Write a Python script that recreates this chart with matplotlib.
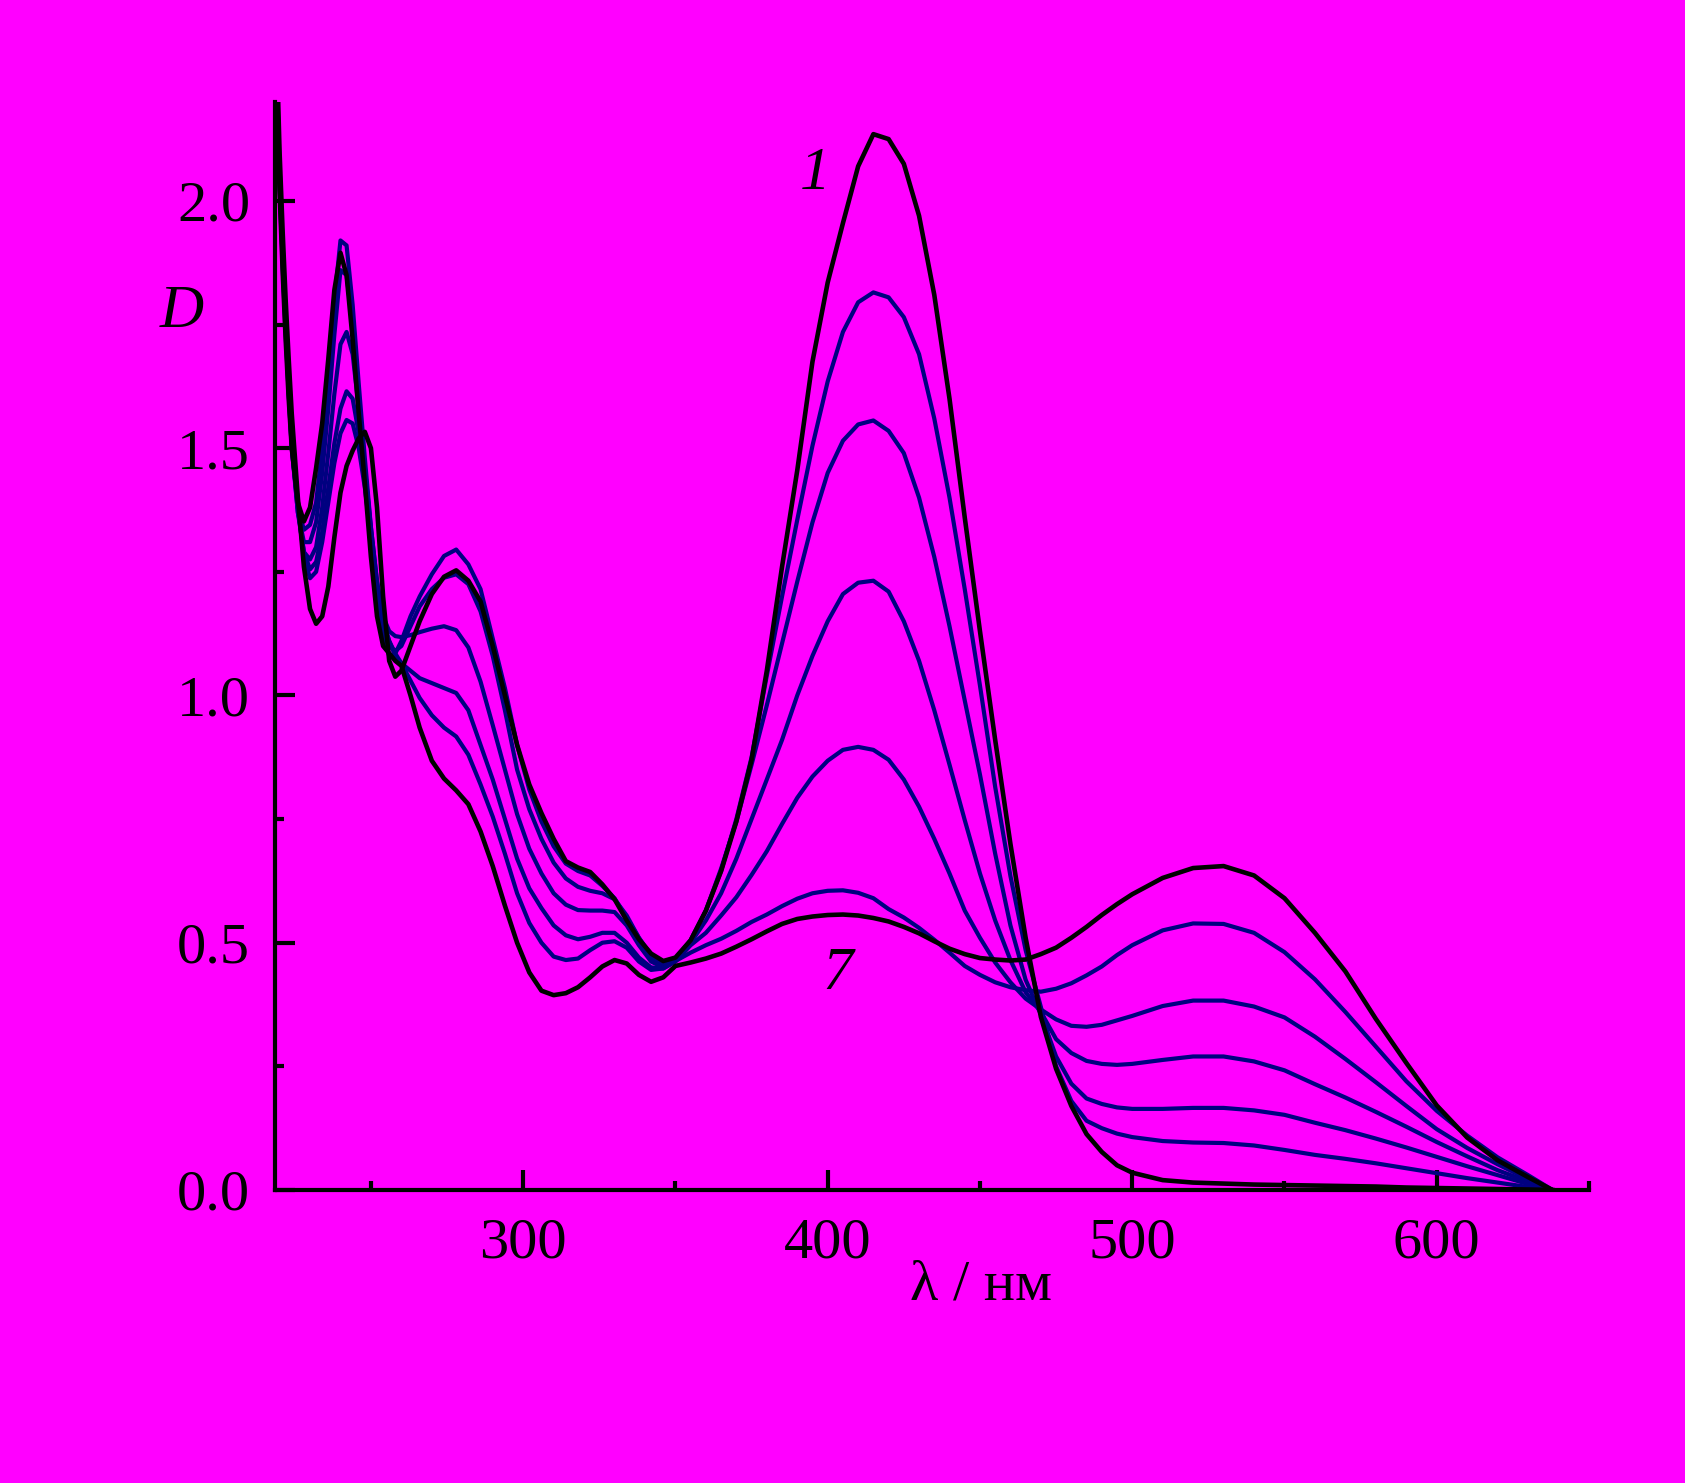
import matplotlib
matplotlib.use('Agg')
import matplotlib.pyplot as plt
from matplotlib.ticker import MultipleLocator, FormatStrFormatter

# wavelength grid, nm
wavelength = [218, 219, 220, 221, 222, 223, 224,
              226, 228, 230, 232, 234, 236, 238, 240, 242, 244, 246, 248, 250, 252, 254, 256, 258, 260, 263, 266,
              270, 274, 278, 282, 286, 290, 294, 298, 302, 306, 310, 314, 318, 322, 326, 330, 334, 338, 342, 346, 350,
              355, 360, 365, 370, 375, 380, 385, 390, 395, 400, 405, 410, 415, 420, 425, 430, 435, 440, 445, 450,
              455, 460, 465, 470, 475, 480, 485, 490, 495, 500,
              510, 520, 530, 540, 550, 560, 570, 580, 590, 600, 610, 620, 630, 638]

# optical density, spectra 1..7
d1 = [2.60, 2.32, 2.10, 1.94, 1.80, 1.68, 1.57,
      1.40, 1.26, 1.175, 1.145, 1.16, 1.22, 1.32, 1.41, 1.464, 1.495, 1.52, 1.533, 1.50, 1.38, 1.20, 1.07, 1.038, 1.05, 1.10, 1.15,
      1.205, 1.24, 1.253, 1.232, 1.19, 1.10, 1.00, 0.90, 0.82, 0.762, 0.71, 0.665, 0.652, 0.643, 0.618, 0.588, 0.545, 0.507, 0.478, 0.463, 0.47,
      0.505, 0.565, 0.645, 0.745, 0.87, 1.05, 1.26, 1.455, 1.675, 1.835, 1.955, 2.07, 2.135, 2.125, 2.075, 1.97, 1.81, 1.60, 1.36, 1.13,
      0.91, 0.70, 0.51, 0.35, 0.245, 0.17, 0.113, 0.077, 0.05, 0.035,
      0.02, 0.015, 0.013, 0.011, 0.01, 0.009, 0.008, 0.007, 0.005, 0.004, 0.003, 0.002, 0.001, 0.0]

d2 = [2.55, 2.28, 2.07, 1.91, 1.77, 1.64, 1.53,
      1.38, 1.28, 1.237, 1.25, 1.31, 1.39, 1.47, 1.53, 1.557, 1.55, 1.50, 1.42, 1.32, 1.21, 1.12, 1.08, 1.085, 1.11, 1.16, 1.20,
      1.245, 1.282, 1.295, 1.265, 1.215, 1.115, 1.015, 0.90, 0.81, 0.745, 0.695, 0.66, 0.645, 0.636, 0.615, 0.59, 0.55, 0.51, 0.476, 0.46, 0.468,
      0.505, 0.565, 0.645, 0.75, 0.875, 1.04, 1.20, 1.355, 1.505, 1.635, 1.735, 1.795, 1.815, 1.805, 1.765, 1.69, 1.56, 1.40, 1.215, 1.02,
      0.815, 0.635, 0.485, 0.37, 0.25, 0.18, 0.14, 0.125, 0.114, 0.107,
      0.099, 0.096, 0.095, 0.09, 0.081, 0.071, 0.063, 0.054, 0.044, 0.034, 0.024, 0.015, 0.006, 0.0]

d3 = [2.55, 2.27, 2.06, 1.90, 1.76, 1.63, 1.52,
      1.38, 1.29, 1.255, 1.27, 1.33, 1.42, 1.51, 1.58, 1.615, 1.60, 1.53, 1.44, 1.33, 1.22, 1.14, 1.10, 1.09, 1.10, 1.14, 1.18,
      1.215, 1.238, 1.245, 1.225, 1.17, 1.08, 0.97, 0.85, 0.77, 0.71, 0.662, 0.63, 0.613, 0.605, 0.60, 0.588, 0.555, 0.51, 0.47, 0.453, 0.465,
      0.505, 0.565, 0.65, 0.745, 0.86, 0.98, 1.105, 1.23, 1.35, 1.45, 1.515, 1.548, 1.556, 1.535, 1.49, 1.40, 1.28, 1.14, 0.99, 0.84,
      0.68, 0.535, 0.425, 0.355, 0.27, 0.215, 0.185, 0.174, 0.167, 0.164,
      0.164, 0.166, 0.166, 0.161, 0.152, 0.136, 0.121, 0.104, 0.086, 0.067, 0.048, 0.03, 0.012, 0.0]

d4 = [2.50, 2.25, 2.05, 1.89, 1.75, 1.62, 1.51,
      1.37, 1.29, 1.275, 1.30, 1.38, 1.49, 1.61, 1.71, 1.735, 1.69, 1.58, 1.46, 1.34, 1.23, 1.16, 1.13, 1.12, 1.118, 1.122, 1.128,
      1.135, 1.14, 1.132, 1.097, 1.028, 0.94, 0.85, 0.76, 0.69, 0.64, 0.60, 0.577, 0.566, 0.565, 0.565, 0.562, 0.535, 0.495, 0.462, 0.45, 0.463,
      0.50, 0.545, 0.60, 0.67, 0.75, 0.83, 0.91, 1.00, 1.08, 1.15, 1.205, 1.228, 1.232, 1.21, 1.15, 1.07, 0.97, 0.86, 0.748, 0.64,
      0.545, 0.465, 0.40, 0.36, 0.305, 0.277, 0.261, 0.255, 0.253, 0.255,
      0.263, 0.27, 0.27, 0.26, 0.242, 0.214, 0.187, 0.158, 0.128, 0.097, 0.068, 0.04, 0.017, 0.0]

d5 = [2.50, 2.24, 2.04, 1.88, 1.74, 1.61, 1.50,
      1.37, 1.31, 1.31, 1.35, 1.45, 1.58, 1.73, 1.86, 1.85, 1.75, 1.60, 1.46, 1.33, 1.22, 1.15, 1.11, 1.08, 1.065, 1.05, 1.035,
      1.025, 1.015, 1.005, 0.97, 0.90, 0.83, 0.75, 0.67, 0.61, 0.57, 0.535, 0.515, 0.507, 0.512, 0.52, 0.52, 0.50, 0.47, 0.45, 0.448, 0.462,
      0.495, 0.52, 0.555, 0.592, 0.637, 0.685, 0.74, 0.793, 0.836, 0.868, 0.89, 0.896, 0.89, 0.87, 0.83, 0.775, 0.71, 0.64, 0.565, 0.51,
      0.46, 0.42, 0.387, 0.365, 0.345, 0.332, 0.33, 0.334, 0.343, 0.352,
      0.372, 0.383, 0.383, 0.371, 0.349, 0.31, 0.265, 0.218, 0.17, 0.123, 0.085, 0.052, 0.022, 0.0]

d6 = [2.45, 2.22, 2.03, 1.87, 1.73, 1.61, 1.50,
      1.38, 1.335, 1.345, 1.39, 1.50, 1.64, 1.80, 1.92, 1.91, 1.79, 1.63, 1.48, 1.34, 1.23, 1.15, 1.11, 1.085, 1.065, 1.03, 0.995,
      0.96, 0.935, 0.917, 0.88, 0.82, 0.755, 0.68, 0.60, 0.54, 0.50, 0.472, 0.465, 0.468, 0.485, 0.50, 0.503, 0.49, 0.462, 0.445, 0.448, 0.463,
      0.48, 0.495, 0.508, 0.524, 0.542, 0.557, 0.574, 0.589, 0.60, 0.605, 0.606, 0.601, 0.59, 0.568, 0.551, 0.53, 0.506, 0.48, 0.453, 0.435,
      0.42, 0.41, 0.404, 0.401, 0.407, 0.418, 0.434, 0.452, 0.475, 0.495,
      0.525, 0.539, 0.538, 0.52, 0.481, 0.426, 0.36, 0.29, 0.22, 0.16, 0.11, 0.066, 0.03, 0.0]

d7 = [2.50, 2.22, 2.02, 1.86, 1.72, 1.60, 1.50,
      1.39, 1.352, 1.38, 1.46, 1.55, 1.68, 1.82, 1.895, 1.85, 1.72, 1.57, 1.43, 1.28, 1.16, 1.10, 1.085, 1.07, 1.06, 1.00, 0.935,
      0.868, 0.832, 0.808, 0.78, 0.725, 0.655, 0.575, 0.50, 0.44, 0.403, 0.394, 0.398, 0.41, 0.43, 0.452, 0.465, 0.458, 0.435, 0.421, 0.43, 0.453,
      0.46, 0.468, 0.478, 0.492, 0.507, 0.523, 0.538, 0.548, 0.553, 0.556, 0.557, 0.555, 0.55, 0.543, 0.532, 0.519, 0.503, 0.488, 0.477, 0.469,
      0.466, 0.464, 0.466, 0.477, 0.49, 0.51, 0.532, 0.556, 0.578, 0.598,
      0.631, 0.651, 0.655, 0.636, 0.59, 0.52, 0.442, 0.346, 0.257, 0.171, 0.106, 0.06, 0.026, 0.0]

BG = '#ff00ff'
NAVY = '#000080'


def main():
    plt.rcParams['font.family'] = ['Liberation Serif', 'DejaVu Serif']
    W, H = 1685, 1483
    fig = plt.figure(figsize=(W / 100, H / 100), dpi=100, facecolor=BG)
    ax = fig.add_axes([275 / W, 1 - 1190 / H, 1314 / W, 1088 / H])
    ax.set_facecolor(BG)

    # intermediate spectra in navy, first and last in black
    for d in (d2, d3, d4, d5, d6):
        ax.plot(wavelength, d, color=NAVY, lw=3.0, solid_joinstyle='round')
    for d in (d1, d7):
        ax.plot(wavelength, d, color='black', lw=3.3, solid_joinstyle='round')

    ax.set_xlim(218.5, 650)
    ax.set_ylim(0, 2.2)

    for s in ('top', 'right'):
        ax.spines[s].set_visible(False)
    for s in ('left', 'bottom'):
        ax.spines[s].set_linewidth(3)

    ax.xaxis.set_major_locator(MultipleLocator(100))
    ax.xaxis.set_minor_locator(MultipleLocator(50))
    ax.yaxis.set_major_locator(MultipleLocator(0.5))
    ax.yaxis.set_minor_locator(MultipleLocator(0.25))
    ax.yaxis.set_major_formatter(FormatStrFormatter('%.1f'))
    ax.xaxis.set_major_formatter(FormatStrFormatter('%d'))

    ax.tick_params(which='major', direction='in', length=14.5, width=3, labelsize=42)
    ax.tick_params(which='minor', direction='in', length=6.5, width=3)
    ax.tick_params(axis='x', which='major', pad=20)
    ax.tick_params(axis='y', which='major', pad=18)

    fig.text(182 / W, 1 - 312 / H, 'D', style='italic', fontsize=44, ha='center', va='center')
    fig.text(981 / W, 1 - 1300 / H, 'λ / нм', fontsize=42, ha='center', va='baseline')
    fig.text(815 / W, 1 - 189 / H, '1', style='italic', fontsize=44, ha='center', va='baseline')
    fig.text(838 / W, 1 - 989 / H, '7', style='italic', fontsize=44, ha='center', va='baseline')

    fig.savefig('out.png', dpi=100, facecolor=BG)


if __name__ == '__main__':
    main()
